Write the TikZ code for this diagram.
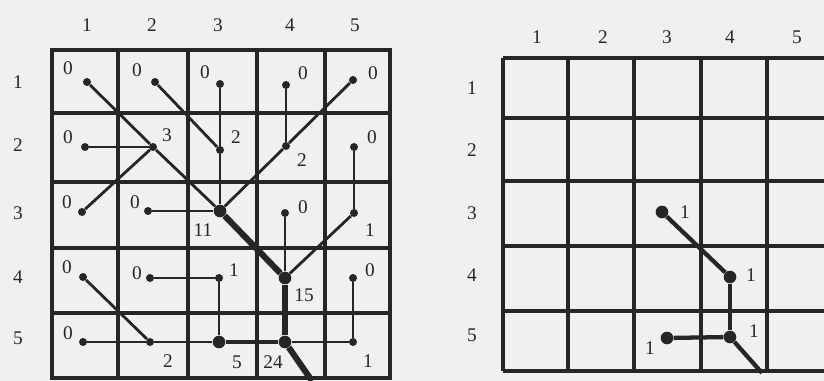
\documentclass[tikz,border=0pt]{standalone}
\usepackage{fontspec}
\setmainfont{Liberation Serif}
\begin{document}
\begin{tikzpicture}[x=0.75pt,y=-0.75pt,
  gridline/.style={line width=2.6pt, draw=black!85},
  flow/.style={line width=2.1pt, draw=black!85},
  bigflow/.style={line width=4.6pt, draw=black!85},
  midflow/.style={line width=3.2pt, draw=black!85},
  dot/.style={circle, fill=black!85, inner sep=0pt, minimum size=6pt},
  bigdot/.style={circle, fill=black!85, inner sep=0pt, minimum size=9.5pt},
  val/.style={font=\fontsize{14.5}{14.5}\selectfont, inner sep=0pt, text=black!85},
  head/.style={font=\fontsize{14.5}{14.5}\selectfont, inner sep=0pt, text=black!85}]
\useasboundingbox (0,0) rectangle (824,381);
\fill[black!6] (0,0) rectangle (824,381);
% ---------- left grid ----------
\draw[gridline] (52,50) rectangle (390,378);
\foreach \x in {118,188,257,325} \draw[gridline] (\x,50) -- (\x,378);
\foreach \y in {113,182,248,313} \draw[gridline] (52,\y) -- (390,\y);
\foreach \t/\x in {1/87,2/152,3/218,4/290,5/355} \node[head] (LC\t) at (\x,25) {\t};
\foreach \t/\y in {1/82,2/145,3/213,4/277,5/338} \node[head] (LR\t) at (18,\y) {\t};
% dots
\node[dot] (L11) at (87,82) {};
\node[dot] (L12) at (155,82) {};
\node[dot] (L13) at (220,84) {};
\node[dot] (L14) at (286,85) {};
\node[dot] (L15) at (353,80) {};
\node[dot] (L21) at (85,147) {};
\node[dot] (L22) at (153,147) {};
\node[dot] (L23) at (220,150) {};
\node[dot] (L24) at (286,146) {};
\node[dot] (L25) at (354,147) {};
\node[dot] (L31) at (82,212) {};
\node[dot] (L32) at (148,211) {};
\node[bigdot] (L33) at (220,211) {};
\node[dot] (L34) at (285,213) {};
\node[dot] (L35) at (354,213) {};
\node[dot] (L41) at (83,277) {};
\node[dot] (L42) at (150,278) {};
\node[dot] (L43) at (219,278) {};
\node[bigdot] (L44) at (285,278) {};
\node[dot] (L45) at (353,278) {};
\node[dot] (L51) at (83,342) {};
\node[dot] (L52) at (150,342) {};
\node[bigdot] (L53) at (219,342) {};
\node[bigdot] (L54) at (285,342) {};
\node[dot] (L55) at (353,342) {};
\coordinate (Lout) at (312,381);
% flows
\draw[flow] (L11) -- (L22);
\draw[flow] (L22) -- (L33);
\draw[flow] (L12) -- (L23);
\draw[flow] (L13) -- (L23);
\draw[flow] (L23) -- (L33);
\draw[flow] (L14) -- (L24);
\draw[flow] (L15) -- (L24);
\draw[flow] (L24) -- (L33);
\draw[flow] (L21) -- (L22);
\draw[flow] (L31) -- (L22);
\draw[flow] (L32) -- (L33);
\draw[bigflow] (L33) -- (L44);
\draw[flow] (L25) -- (L35);
\draw[flow] (L35) -- (L44);
\draw[flow] (L34) -- (L44);
\draw[bigflow] (L44) -- (L54);
\draw[flow] (L41) -- (L52);
\draw[flow] (L51) -- (L52);
\draw[flow] (L52) -- (L53);
\draw[flow] (L42) -- (L43);
\draw[flow] (L43) -- (L53);
\draw[midflow] (L53) -- (L54);
\draw[flow] (L45) -- (L55);
\draw[flow] (L55) -- (L54);
\draw[bigflow] (L54) -- (Lout);
% values
\node[val] (V11) at (68,68) {0};
\node[val] (V12) at (137,70) {0};
\node[val] (V13) at (205,72) {0};
\node[val] (V14) at (303,73) {0};
\node[val] (V15) at (373,73) {0};
\node[val] (V21) at (68,137) {0};
\node[val] (V22) at (167,135) {3};
\node[val] (V23) at (236,137) {2};
\node[val] (V24) at (302,160) {2};
\node[val] (V25) at (372,137) {0};
\node[val] (V31) at (67,202) {0};
\node[val] (V32) at (135,202) {0};
\node[val] (V33) at (203,230) {11};
\node[val] (V34) at (303,207) {0};
\node[val] (V35) at (370,230) {1};
\node[val] (V41) at (67,267) {0};
\node[val] (V42) at (137,273) {0};
\node[val] (V43) at (234,270) {1};
\node[val] (V44) at (304,295) {15};
\node[val] (V45) at (370,270) {0};
\node[val] (V51) at (68,333) {0};
\node[val] (V52) at (168,361) {2};
\node[val] (V53) at (237,362) {5};
\node[val] (V54) at (273,362) {24};
\node[val] (V55) at (368,361) {1};
% ---------- right grid ----------
\begin{scope}
\clip (0,0) rectangle (824,381);
\draw[gridline] (503,58) -- (834,58);
\draw[gridline] (503,371) -- (834,371);
\draw[gridline] (503,58) -- (503,371);
\foreach \x in {568,634,701,767} \draw[gridline] (\x,58) -- (\x,371);
\foreach \y in {118,181,246,311} \draw[gridline] (503,\y) -- (834,\y);
\end{scope}
\foreach \t/\x in {1/537,2/603,3/667,4/730,5/797} \node[head] (RC\t) at (\x,37) {\t};
\foreach \t/\y in {1/88,2/150,3/213,4/275,5/335} \node[head] (RR\t) at (472,\y) {\t};
\node[bigdot] (R33) at (662,212) {};
\node[bigdot] (R44) at (730,277) {};
\node[bigdot] (R54) at (730,337) {};
\node[bigdot] (R53) at (667,338) {};
\coordinate (Rout) at (762,373);
\draw[midflow] (R33) -- (R44);
\draw[midflow] (R44) -- (R54);
\draw[midflow] (R53) -- (R54);
\draw[midflow] (R54) -- (Rout);
\node[val] (W33) at (685,212) {1};
\node[val] (W44) at (751,275) {1};
\node[val] (W54) at (754,331) {1};
\node[val] (W53) at (650,348) {1};
\end{tikzpicture}
\end{document}
